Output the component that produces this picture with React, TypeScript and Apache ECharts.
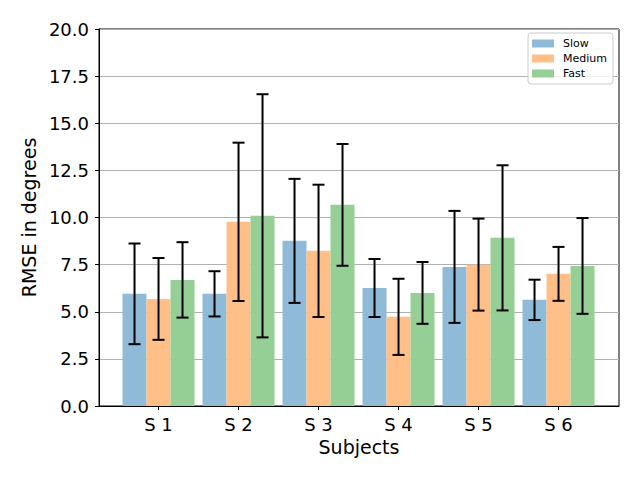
import React, { useEffect, useRef } from "react";
import * as echarts from "echarts";

const subjects = ["S 1", "S 2", "S 3", "S 4", "S 5", "S 6"];
const seriesNames = ["Slow", "Medium", "Fast"];
const slow = [5.95, 5.95, 8.76, 6.26, 7.38, 5.63];
const medium = [5.68, 9.77, 8.23, 4.73, 7.5, 7.01];
const fast = [6.69, 10.09, 10.67, 6.0, 8.92, 7.43];
const slowErr = [2.67, 1.2, 3.29, 1.54, 2.97, 1.07];
const mediumErr = [2.17, 4.2, 3.51, 2.02, 2.44, 1.43];
const fastErr = [2.0, 6.45, 3.23, 1.64, 3.85, 2.54];
const yTicks = [0, 2.5, 5, 7.5, 10, 12.5, 15, 17.5, 20];

const colors = ["#8fbbd9", "#ffbf86", "#95cf95"];
const BAR_W = 0.3;
const FONT = "DejaVu Sans";

export default function App() {
  const ref = useRef<HTMLDivElement>(null);
  useEffect(() => {
    document.body.style.margin = "0";
    const chart = echarts.init(ref.current!, null, { renderer: "svg" });
    const values = [slow, medium, fast];
    const errs = [slowErr, mediumErr, fastErr];
    const offsets = [-BAR_W, 0, BAR_W];

    const barSeries = seriesNames.map((name, k) => ({
      name,
      type: "custom",
      itemStyle: { color: colors[k] },
      encode: { x: 0, y: 1 },
      data: values[k].map((v, i) => [i, v]),
      z: 2,
      renderItem: (params: any, api: any) => {
        const x = api.value(0) + offsets[k];
        const v = api.value(1);
        const p0 = api.coord([x - BAR_W / 2, v]);
        const p1 = api.coord([x + BAR_W / 2, 0]);
        return {
          type: "rect",
          shape: { x: p0[0], y: p0[1], width: p1[0] - p0[0], height: p1[1] - p0[1] },
          style: { fill: colors[k] },
        };
      },
    }));

    const errSeries = seriesNames.map((name, k) => ({
      name: name + " error",
      type: "custom",
      encode: { x: 0, y: 1 },
      data: values[k].map((v, i) => [i, v, errs[k][i]]),
      z: 5,
      renderItem: (params: any, api: any) => {
        const x = api.value(0) + offsets[k];
        const v = api.value(1);
        const e = api.value(2);
        const top = api.coord([x, v + e]);
        const bot = api.coord([x, v - e]);
        const cap = 6;
        const st = { stroke: "#000", lineWidth: 2 };
        return {
          type: "group",
          children: [
            { type: "line", shape: { x1: top[0], y1: top[1], x2: bot[0], y2: bot[1] }, style: st },
            { type: "line", shape: { x1: top[0] - cap, y1: top[1], x2: top[0] + cap, y2: top[1] }, style: st },
            { type: "line", shape: { x1: bot[0] - cap, y1: bot[1], x2: bot[0] + cap, y2: bot[1] }, style: st },
          ],
        };
      },
    }));

    chart.setOption({
      animation: false,
      textStyle: { fontFamily: FONT },
      grid: {
        left: 99,
        right: 21,
        top: 29,
        bottom: 74,
        show: true,
        borderColor: "#000",
        borderWidth: 1,
        backgroundColor: "transparent",
      },
      legend: {
        data: seriesNames,
        orient: "vertical",
        left: 528,
        top: 33,
        icon: "rect",
        itemWidth: 22,
        itemHeight: 8,
        itemGap: 4,
        padding: [5, 6, 5, 4],
        borderColor: "#cccccc",
        borderWidth: 1,
        borderRadius: 3,
        backgroundColor: "rgba(255,255,255,0.8)",
        textStyle: { fontFamily: FONT, fontSize: 11, color: "#000", padding: [0, 0, 0, 4] },
      },
      xAxis: {
        type: "value",
        min: -0.744,
        max: 5.756,
        name: "Subjects",
        nameLocation: "middle",
        nameGap: 30,
        nameTextStyle: { fontFamily: FONT, fontSize: 19, color: "#000" },
        splitLine: { show: false },
        axisLine: { show: true, onZero: false, lineStyle: { color: "#000", width: 1 } },
        axisTick: { show: true, length: 4, customValues: [0, 1, 2, 3, 4, 5], lineStyle: { color: "#000" } },
        axisLabel: {
          customValues: [0, 1, 2, 3, 4, 5],
          formatter: (v: number) => subjects[Math.round(v)] ?? "",
          fontFamily: FONT,
          fontSize: 18,
          color: "#000",
          margin: 9,
        },
      },
      yAxis: {
        type: "value",
        min: 0,
        max: 20,
        interval: 2.5,
        name: "RMSE in degrees",
        nameLocation: "middle",
        nameGap: 60,
        nameTextStyle: { fontFamily: FONT, fontSize: 19, color: "#000" },
        splitLine: { show: true, lineStyle: { color: "#b0b0b0", width: 1 } },
        axisLine: { show: true, onZero: false, lineStyle: { color: "#000", width: 1 } },
        axisTick: { show: true, length: 4, lineStyle: { color: "#000" } },
        axisLabel: {
          formatter: (v: number) => (yTicks.includes(v) ? v.toFixed(1) : ""),
          fontFamily: FONT,
          fontSize: 18,
          color: "#000",
          margin: 10,
        },
      },
      series: [...barSeries, ...errSeries],
    });
    return () => chart.dispose();
  }, []);
  return <div ref={ref} style={{ width: 640, height: 480 }} />;
}
